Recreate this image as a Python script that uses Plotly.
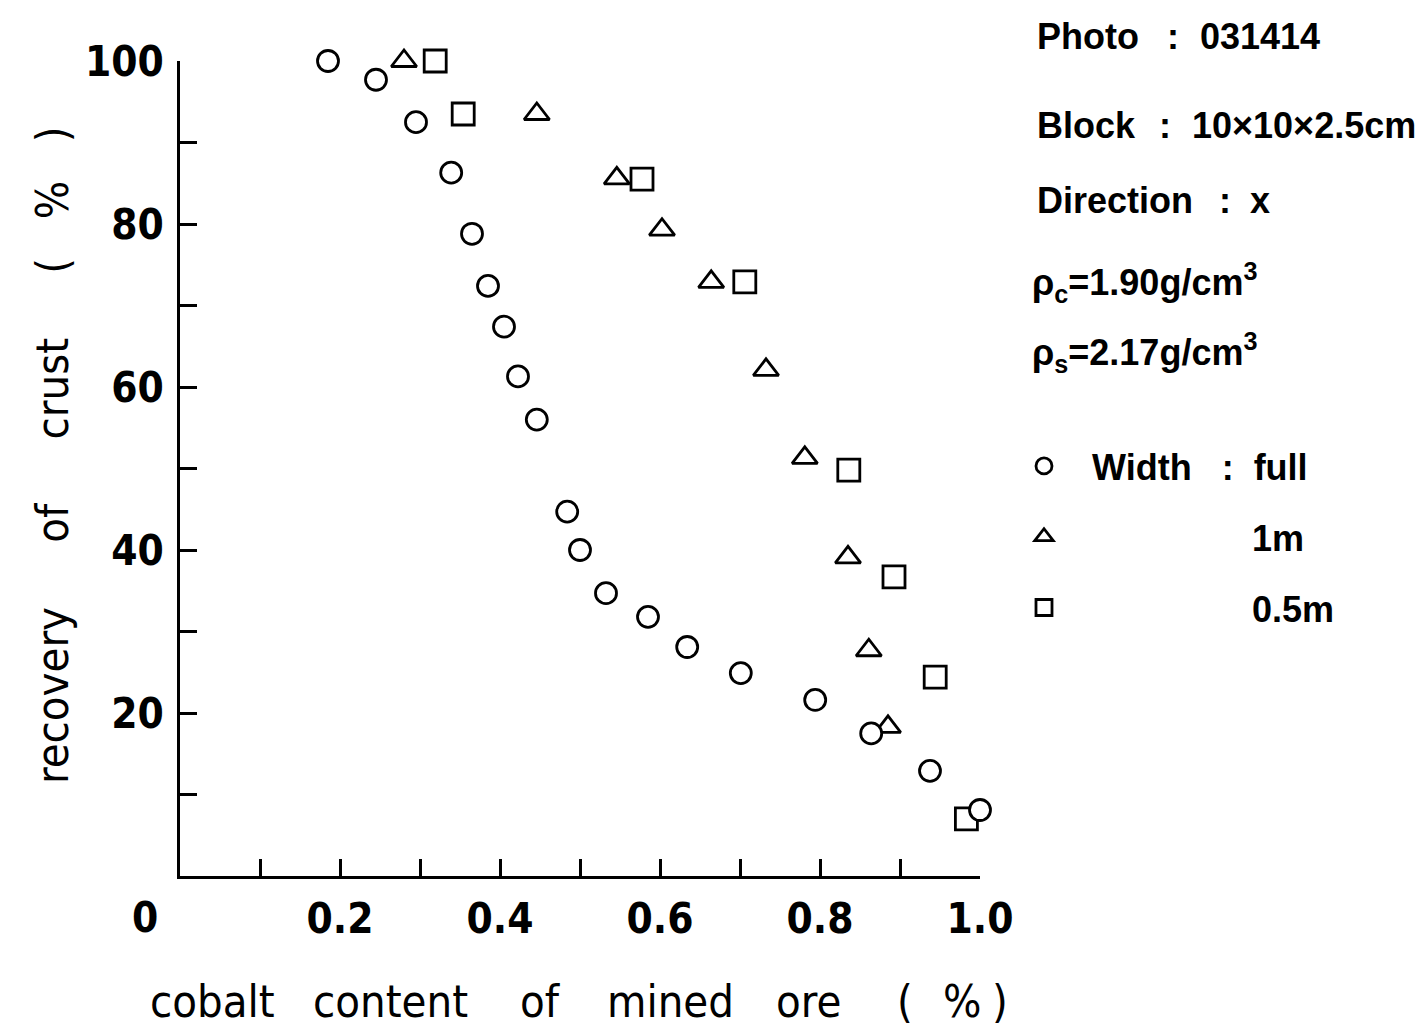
import plotly.graph_objects as go

# Cobalt content of mined ore (%) vs recovery of crust (%) for three cutting widths
x_full = [0.185, 0.245, 0.295, 0.339, 0.365, 0.385, 0.405, 0.4225, 0.446, 0.484,
          0.5, 0.5325, 0.585, 0.634, 0.701, 0.794, 0.864, 0.9375, 1.0]
y_full = [100.0, 97.7, 92.5, 86.3, 78.8, 72.4, 67.4, 61.3, 56.0, 44.7,
          40.0, 34.7, 31.8, 28.1, 24.9, 21.6, 17.5, 12.9, 8.1]

x_1m = [0.28, 0.446, 0.546, 0.6025, 0.664, 0.7325, 0.781, 0.835, 0.861, 0.885]
y_1m = [100.0, 93.5, 85.6, 79.3, 72.9, 62.1, 51.3, 39.1, 27.7, 18.3]

x_05m = [0.319, 0.354, 0.5775, 0.706, 0.836, 0.8925, 0.944, 0.983]
y_05m = [100.0, 93.5, 85.5, 72.9, 49.8, 36.7, 24.4, 7.0]

x_tickvals = [0.2, 0.4, 0.6, 0.8, 1.0]
x_ticktext = ["0.2", "0.4", "0.6", "0.8", "1.0"]
y_tickvals = [20, 40, 60, 80, 100]
y_ticktext = ["20", "40", "60", "80", "100"]

x_title_words = ["cobalt", "content", "of", "mined", "ore", "(", "%", ")"]
y_title = ("recovery" + "\u00a0" * 5 + "of" + "\u00a0" * 5 + "crust" + "\u00a0" * 5
           + "(\u00a0\u00a0\u00a0%\u00a0\u00a0\u00a0)")

info_rows = [
    ("Photo", "031414"),
    ("Block", "10×10×2.5cm"),
    ("Direction", "x"),
]
density_rows = [
    "ρ<sub>c</sub>=1.90g/cm<sup>3</sup>",
    "ρ<sub>s</sub>=2.17g/cm<sup>3</sup>",
]

W, H = 1421, 1029
L, R, T, B = 180, 441, 61, 153
PW, PH = W - L - R, H - T - B


def px(xp):
    return (xp - L) / PW


def py(yp):
    return (H - B - yp) / PH


TICK_FONT = dict(family="DejaVu Sans Condensed", size=42, color="black", weight="bold")
TITLE_FONT = dict(family="DejaVu Sans Condensed", size=45, color="black")
INFO_FONT = dict(family="Liberation Sans", size=36, color="black", weight="bold")
NB = "\u00a0"

fig = go.Figure()

fig.add_trace(go.Scatter(
    x=x_1m, y=y_1m, mode="markers", name=NB * 16 + "1m",
    legendrank=2, legendgroup="b",
    marker=dict(symbol="triangle-up", size=22, color="white",
                line=dict(color="black", width=2.8)),
    cliponaxis=False,
))
fig.add_trace(go.Scatter(
    x=x_05m, y=y_05m, mode="markers", name=NB * 16 + "0.5m",
    legendrank=3, legendgroup="c",
    marker=dict(symbol="square", size=22, color="white",
                line=dict(color="black", width=2.8)),
    cliponaxis=False,
))
fig.add_trace(go.Scatter(
    x=x_full, y=y_full, mode="markers", name="Width" + NB * 3 + ":" + NB * 2 + "full",
    legendrank=1, legendgroup="a",
    marker=dict(symbol="circle", size=21, color="white",
                line=dict(color="black", width=2.8)),
    cliponaxis=False,
))

annotations = []
row_y = [37, 125, 200]
colon_x = [1165, 1157, 1217]
value_x = [1198, 1190, 1248]
for (label, value), yy, cx, vx in zip(info_rows, row_y, colon_x, value_x):
    annotations.append(dict(x=px(1035), y=py(yy), text=label, xanchor="left", yanchor="middle"))
    annotations.append(dict(x=px(cx), y=py(yy), text=":", xanchor="left", yanchor="middle"))
    annotations.append(dict(x=px(vx), y=py(yy), text=value, xanchor="left", yanchor="middle"))
for txt, yy in zip(density_rows, [282, 352]):
    annotations.append(dict(x=px(1030), y=py(yy), text=txt, xanchor="left", yanchor="middle"))
for a in annotations:
    a.update(xref="paper", yref="paper", showarrow=False, font=INFO_FONT)

# shared origin label
annotations.append(dict(x=px(145), y=py(918), xref="paper", yref="paper", text="0",
                        showarrow=False, xanchor="center", yanchor="middle", font=TICK_FONT))

# x-axis title, word by word with wide spacing
word_centres = [212, 390, 540, 670, 808, 905, 962, 1000]
for word, cx in zip(x_title_words, word_centres):
    annotations.append(dict(x=px(cx), y=py(1001), xref="paper", yref="paper", text=word,
                            showarrow=False, xanchor="center", yanchor="middle",
                            font=TITLE_FONT))

annotations.append(dict(
    x=px(52), y=py(455), xref="paper", yref="paper", textangle=-90, text=y_title,
    showarrow=False, xanchor="center", yanchor="middle", font=TITLE_FONT))

axis_common = dict(
    showline=True, linecolor="black", linewidth=2.5,
    ticks="inside", ticklen=17, tickwidth=2.5, tickcolor="black",
    showgrid=False, zeroline=False, tickfont=TICK_FONT,
)

fig.update_layout(
    width=W, height=H,
    margin=dict(l=L, r=R, t=T, b=B, pad=0),
    paper_bgcolor="white", plot_bgcolor="white",
    xaxis=dict(range=[0, 1.0], tickmode="array", tickvals=x_tickvals,
               ticktext=x_ticktext, ticklabelstandoff=4,
               minor=dict(dtick=0.1, tick0=0, ticks="inside", ticklen=17,
                          tickwidth=2.5, tickcolor="black", showgrid=False),
               **axis_common),
    yaxis=dict(range=[0, 100], tickmode="array", tickvals=y_tickvals,
               ticktext=y_ticktext, ticklabelstandoff=5,
               minor=dict(dtick=10, tick0=0, ticks="inside", ticklen=17,
                          tickwidth=2.5, tickcolor="black", showgrid=False),
               **axis_common),
    legend=dict(x=px(996), y=py(436), xanchor="left", yanchor="top",
                font=INFO_FONT, bgcolor="rgba(0,0,0,0)", tracegroupgap=21,
                itemwidth=86, traceorder="grouped"),
    showlegend=True,
    annotations=annotations,
)

fig.write_html("out.html")
